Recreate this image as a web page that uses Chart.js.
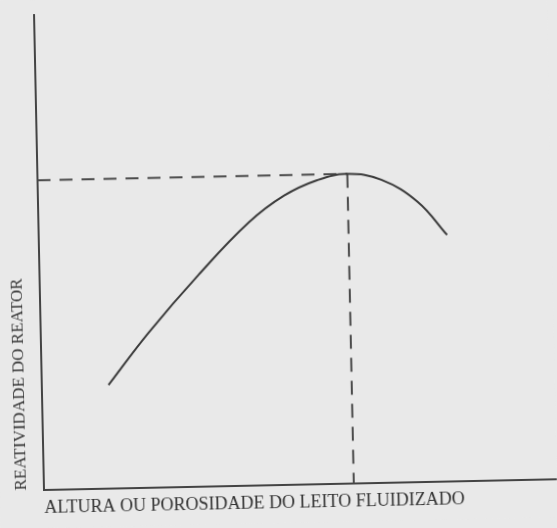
<!DOCTYPE html>
<html>
<head>
<meta charset="utf-8">
<script src="https://cdn.jsdelivr.net/npm/chart.js@4/dist/chart.umd.min.js"></script>
<style>
  html, body { margin: 0; padding: 0; background: #e9e9e9; overflow: hidden; }
  #wrap { width: 557px; height: 528px; position: relative;
          transform-origin: 44px 490px; transform: rotate(-1.2deg); }
  canvas { display: block; }
</style>
</head>
<body>
<div id="wrap"><canvas id="c" width="557" height="528"></canvas></div>
<script>
// Curve (arbitrary units 0-100 on both axes)
const curveX = [13, 21, 31, 41, 48, 54.5, 60.4, 67, 74, 79.6];
const curveY = [21.8, 32.6, 44.6, 55.4, 60.9, 64.0, 65.2, 63.8, 59.0, 51.9];
// Maximum marked by the dashed guide lines
const peakX = 60.4;
const peakY = 65.2;
const xTitle = 'ALTURA OU POROSIDADE DO LEITO FLUIDIZADO';
const yTitle = 'REATIVIDADE DO REATOR';

const curvePts = curveX.map((x, i) => ({ x: x, y: curveY[i] }));
const hGuide = [{ x: 0, y: peakY }, { x: peakX, y: peakY }];
const vGuide = [{ x: peakX, y: peakY }, { x: peakX, y: 0 }];

const ink = '#3a3a3a';
const bgPlugin = {
  id: 'bg',
  beforeDraw(chart) {
    const ctx = chart.ctx;
    ctx.save();
    ctx.fillStyle = '#e9e9e9';
    ctx.fillRect(0, 0, chart.width, chart.height);
    ctx.restore();
  }
};

new Chart(document.getElementById('c'), {
  type: 'line',
  data: {
    datasets: [
      { data: curvePts, borderColor: ink, borderWidth: 2, pointRadius: 0,
        tension: 0.4, fill: false },
      { data: hGuide, borderColor: '#4a4a4a', borderWidth: 2, borderDash: [13, 9],
        pointRadius: 0, fill: false },
      { data: vGuide, borderColor: '#4a4a4a', borderWidth: 2, borderDash: [14, 9],
        pointRadius: 0, fill: false }
    ]
  },
  options: {
    responsive: false,
    animation: false,
    layout: { padding: { top: 15, left: 0, right: 0, bottom: 0 } },
    plugins: { legend: { display: false }, tooltip: { enabled: false } },
    scales: {
      x: {
        type: 'linear', min: 0, max: 100,
        grid: { display: false, drawTicks: false },
        border: { display: true, color: '#444', width: 2 },
        ticks: { display: false },
        afterFit(s) { s.height = 38; },
        title: { display: true, text: xTitle, align: 'start', color: '#333',
                 font: { family: 'Liberation Serif', size: 18 },
                 padding: { top: 0, bottom: 9 } }
      },
      y: {
        type: 'linear', min: 0, max: 100,
        grid: { display: false, drawTicks: false },
        border: { display: true, color: '#444', width: 2 },
        ticks: { display: false },
        afterFit(s) { s.width = 44; },
        title: { display: true, text: yTitle, align: 'start', color: '#333',
                 font: { family: 'Liberation Serif', size: 17 },
                 padding: { top: 11, bottom: 0 } }
      }
    }
  },
  plugins: [bgPlugin]
});
</script>
</body>
</html>
